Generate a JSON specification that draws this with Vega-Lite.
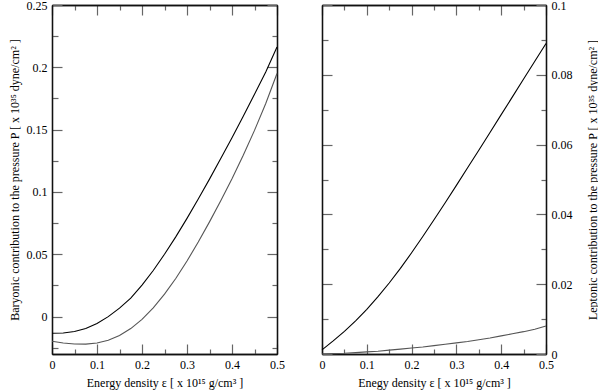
{
  "$schema": "https://vega.github.io/schema/vega-lite/v6.json",
  "background": "white",
  "padding": {"left": 8, "top": -1, "right": 0, "bottom": 4},
  "datasets": {
    "baryon": [
      {"e": 0, "p": -0.0134, "curve": "upper"}, {"e": 0.025, "p": -0.0132, "curve": "upper"}, {"e": 0.05, "p": -0.0120, "curve": "upper"}, {"e": 0.075, "p": -0.0096, "curve": "upper"}, {"e": 0.1, "p": -0.0055, "curve": "upper"}, {"e": 0.125, "p": 0.0000, "curve": "upper"}, {"e": 0.15, "p": 0.0068, "curve": "upper"}, {"e": 0.175, "p": 0.0148, "curve": "upper"}, {"e": 0.2, "p": 0.0253, "curve": "upper"}, {"e": 0.225, "p": 0.0370, "curve": "upper"}, {"e": 0.25, "p": 0.0500, "curve": "upper"}, {"e": 0.275, "p": 0.0640, "curve": "upper"}, {"e": 0.3, "p": 0.0788, "curve": "upper"}, {"e": 0.325, "p": 0.0943, "curve": "upper"}, {"e": 0.35, "p": 0.1103, "curve": "upper"}, {"e": 0.375, "p": 0.1268, "curve": "upper"}, {"e": 0.4, "p": 0.1435, "curve": "upper"}, {"e": 0.425, "p": 0.1608, "curve": "upper"}, {"e": 0.45, "p": 0.1783, "curve": "upper"}, {"e": 0.475, "p": 0.1963, "curve": "upper"}, {"e": 0.5, "p": 0.2163, "curve": "upper"},
      {"e": 0, "p": -0.0198, "curve": "lower"}, {"e": 0.025, "p": -0.0212, "curve": "lower"}, {"e": 0.05, "p": -0.0220, "curve": "lower"}, {"e": 0.075, "p": -0.0221, "curve": "lower"}, {"e": 0.1, "p": -0.0212, "curve": "lower"}, {"e": 0.125, "p": -0.0190, "curve": "lower"}, {"e": 0.15, "p": -0.0152, "curve": "lower"}, {"e": 0.175, "p": -0.0096, "curve": "lower"}, {"e": 0.2, "p": -0.0022, "curve": "lower"}, {"e": 0.225, "p": 0.0070, "curve": "lower"}, {"e": 0.25, "p": 0.0180, "curve": "lower"}, {"e": 0.275, "p": 0.0306, "curve": "lower"}, {"e": 0.3, "p": 0.0446, "curve": "lower"}, {"e": 0.325, "p": 0.0598, "curve": "lower"}, {"e": 0.35, "p": 0.0760, "curve": "lower"}, {"e": 0.375, "p": 0.0930, "curve": "lower"}, {"e": 0.4, "p": 0.1106, "curve": "lower"}, {"e": 0.425, "p": 0.1294, "curve": "lower"}, {"e": 0.45, "p": 0.1494, "curve": "lower"}, {"e": 0.475, "p": 0.1710, "curve": "lower"}, {"e": 0.5, "p": 0.1950, "curve": "lower"}
    ],
    "lepton": [
      {"e": 0, "p": 0.0012, "curve": "upper"}, {"e": 0.025, "p": 0.00375, "curve": "upper"}, {"e": 0.05, "p": 0.0065, "curve": "upper"}, {"e": 0.075, "p": 0.0095, "curve": "upper"}, {"e": 0.1, "p": 0.0128, "curve": "upper"}, {"e": 0.125, "p": 0.01643, "curve": "upper"}, {"e": 0.15, "p": 0.02035, "curve": "upper"}, {"e": 0.175, "p": 0.02455, "curve": "upper"}, {"e": 0.2, "p": 0.0290, "curve": "upper"}, {"e": 0.225, "p": 0.03365, "curve": "upper"}, {"e": 0.25, "p": 0.03845, "curve": "upper"}, {"e": 0.275, "p": 0.04335, "curve": "upper"}, {"e": 0.3, "p": 0.04833, "curve": "upper"}, {"e": 0.325, "p": 0.05335, "curve": "upper"}, {"e": 0.35, "p": 0.0584, "curve": "upper"}, {"e": 0.375, "p": 0.06348, "curve": "upper"}, {"e": 0.4, "p": 0.06858, "curve": "upper"}, {"e": 0.425, "p": 0.07368, "curve": "upper"}, {"e": 0.45, "p": 0.07878, "curve": "upper"}, {"e": 0.475, "p": 0.08388, "curve": "upper"}, {"e": 0.5, "p": 0.08898, "curve": "upper"},
      {"e": 0, "p": 0.0000, "curve": "lower"}, {"e": 0.025, "p": 0.0001, "curve": "lower"}, {"e": 0.05, "p": 0.0002, "curve": "lower"}, {"e": 0.075, "p": 0.0004, "curve": "lower"}, {"e": 0.1, "p": 0.0006, "curve": "lower"}, {"e": 0.125, "p": 0.0008, "curve": "lower"}, {"e": 0.15, "p": 0.0011, "curve": "lower"}, {"e": 0.175, "p": 0.0014, "curve": "lower"}, {"e": 0.2, "p": 0.0017, "curve": "lower"}, {"e": 0.225, "p": 0.0020, "curve": "lower"}, {"e": 0.25, "p": 0.0024, "curve": "lower"}, {"e": 0.275, "p": 0.0028, "curve": "lower"}, {"e": 0.3, "p": 0.0032, "curve": "lower"}, {"e": 0.325, "p": 0.0036, "curve": "lower"}, {"e": 0.35, "p": 0.0041, "curve": "lower"}, {"e": 0.375, "p": 0.0046, "curve": "lower"}, {"e": 0.4, "p": 0.0052, "curve": "lower"}, {"e": 0.425, "p": 0.0058, "curve": "lower"}, {"e": 0.45, "p": 0.0064, "curve": "lower"}, {"e": 0.475, "p": 0.0071, "curve": "lower"}, {"e": 0.5, "p": 0.0080, "curve": "lower"}
    ]
  },
  "config": {
    "view": {"stroke": null},
    "axis": {
      "grid": false,
      "domainColor": "#111",
      "domainWidth": 1.3,
      "tickColor": "#666",
      "tickWidth": 1.2,
      "labelFont": "Liberation Serif",
      "labelFontSize": 12,
      "labelColor": "#000",
      "labelFlush": false,
      "labelOverlap": false,
      "titleFont": "Liberation Serif",
      "titleFontSize": 12,
      "titleFontWeight": "normal",
      "titleColor": "#000",
      "format": "~g"
    },
    "line": {"strokeWidth": 1.1}
  },
  "hconcat": [
    {
      "width": 225,
      "height": 349,
      "data": {"name": "baryon"},
      "resolve": {"axis": {"x": "independent", "y": "independent"}},
      "layer": [
        {
          "mark": {"type": "line"},
          "encoding": {
            "x": {"field": "e", "type": "quantitative", "scale": {"domain": [0, 0.5], "nice": false, "zero": false},
                  "axis": {"orient": "bottom", "values": [0, 0.1, 0.2, 0.3, 0.4, 0.5], "tickSize": -10, "labelPadding": 15, "title": "Energy density ε [ x 10¹⁵ g/cm³ ]", "titlePadding": 7}},
            "y": {"field": "p", "type": "quantitative", "scale": {"domain": [-0.03, 0.25], "nice": false, "zero": false},
                  "axis": {"orient": "left", "values": [0, 0.05, 0.1, 0.15, 0.2, 0.25], "tickSize": -10, "labelPadding": 15, "title": "Baryonic contribution to the pressure P [ x 10³⁵ dyne/cm² ]", "titlePadding": 5}},
            "detail": {"field": "curve"},
            "color": {"field": "curve", "type": "nominal", "scale": {"domain": ["upper", "lower"], "range": ["#000000", "#555555"]}, "legend": null}
          }
        },
        {
          "mark": {"type": "line", "opacity": 0},
          "encoding": {
            "x": {"field": "e", "type": "quantitative", "scale": {"domain": [0, 0.5], "nice": false, "zero": false},
                  "axis": {"orient": "top", "values": [0, 0.1, 0.2, 0.3, 0.4, 0.5], "tickSize": -10, "labels": false, "title": null}},
            "y": {"field": "p", "type": "quantitative", "scale": {"domain": [-0.03, 0.25], "nice": false, "zero": false},
                  "axis": {"orient": "right", "values": [0, 0.05, 0.1, 0.15, 0.2, 0.25], "tickSize": -10, "labels": false, "title": null}},
            "detail": {"field": "curve"}
          }
        },
        {
          "mark": {"type": "line", "opacity": 0},
          "encoding": {
            "x": {"field": "e", "type": "quantitative", "scale": {"domain": [0, 0.5], "nice": false, "zero": false},
                  "axis": {"orient": "bottom", "values": [0.05, 0.15, 0.25, 0.35, 0.45], "tickSize": -5, "labels": false, "title": null}},
            "y": {"field": "p", "type": "quantitative", "scale": {"domain": [-0.03, 0.25], "nice": false, "zero": false},
                  "axis": {"orient": "left", "values": [-0.025, 0.025, 0.075, 0.125, 0.175, 0.225], "tickSize": -6, "labels": false, "title": null}},
            "detail": {"field": "curve"}
          }
        },
        {
          "mark": {"type": "line", "opacity": 0},
          "encoding": {
            "x": {"field": "e", "type": "quantitative", "scale": {"domain": [0, 0.5], "nice": false, "zero": false},
                  "axis": {"orient": "top", "values": [0.05, 0.15, 0.25, 0.35, 0.45], "tickSize": -5, "labels": false, "title": null}},
            "y": {"field": "p", "type": "quantitative", "scale": {"domain": [-0.03, 0.25], "nice": false, "zero": false},
                  "axis": {"orient": "right", "values": [-0.025, 0.025, 0.075, 0.125, 0.175, 0.225], "tickSize": -5, "labels": false, "title": null}},
            "detail": {"field": "curve"}
          }
        }
      ]
    },
    {
      "width": 224,
      "height": 349,
      "data": {"name": "lepton"},
      "resolve": {"axis": {"x": "independent", "y": "independent"}},
      "layer": [
        {
          "mark": {"type": "line"},
          "encoding": {
            "x": {"field": "e", "type": "quantitative", "scale": {"domain": [0, 0.5], "nice": false, "zero": false},
                  "axis": {"orient": "bottom", "values": [0, 0.1, 0.2, 0.3, 0.4, 0.5], "tickSize": -10, "labelPadding": 15, "title": "Enegy density ε [ x 10¹⁵ g/cm³ ]", "titlePadding": 7}},
            "y": {"field": "p", "type": "quantitative", "scale": {"domain": [0, 0.1], "nice": false, "zero": false},
                  "axis": {"orient": "right", "values": [0, 0.02, 0.04, 0.06, 0.08, 0.1], "tickSize": -10, "labelPadding": 15, "title": "Leptonic contribution to the pressure P [ x 10³⁵ dyne/cm² ]", "titleAngle": 270, "titleBaseline": "top", "titlePadding": 15}},
            "detail": {"field": "curve"},
            "color": {"field": "curve", "type": "nominal", "scale": {"domain": ["upper", "lower"], "range": ["#333333", "#000000"]}, "legend": null}
          }
        },
        {
          "mark": {"type": "line", "opacity": 0},
          "encoding": {
            "x": {"field": "e", "type": "quantitative", "scale": {"domain": [0, 0.5], "nice": false, "zero": false},
                  "axis": {"orient": "top", "values": [0, 0.1, 0.2, 0.3, 0.4, 0.5], "tickSize": -10, "labels": false, "title": null}},
            "y": {"field": "p", "type": "quantitative", "scale": {"domain": [0, 0.1], "nice": false, "zero": false},
                  "axis": {"orient": "left", "values": [0, 0.02, 0.04, 0.06, 0.08, 0.1], "tickSize": -10, "labels": false, "title": null}},
            "detail": {"field": "curve"}
          }
        },
        {
          "mark": {"type": "line", "opacity": 0},
          "encoding": {
            "x": {"field": "e", "type": "quantitative", "scale": {"domain": [0, 0.5], "nice": false, "zero": false},
                  "axis": {"orient": "bottom", "values": [0.05, 0.15, 0.25, 0.35, 0.45], "tickSize": -5, "labels": false, "title": null}},
            "y": {"field": "p", "type": "quantitative", "scale": {"domain": [0, 0.1], "nice": false, "zero": false},
                  "axis": {"orient": "right", "values": [0.01, 0.03, 0.05, 0.07, 0.09], "tickSize": -5, "labels": false, "title": null}},
            "detail": {"field": "curve"}
          }
        },
        {
          "mark": {"type": "line", "opacity": 0},
          "encoding": {
            "x": {"field": "e", "type": "quantitative", "scale": {"domain": [0, 0.5], "nice": false, "zero": false},
                  "axis": {"orient": "top", "values": [0.05, 0.15, 0.25, 0.35, 0.45], "tickSize": -5, "labels": false, "title": null}},
            "y": {"field": "p", "type": "quantitative", "scale": {"domain": [0, 0.1], "nice": false, "zero": false},
                  "axis": {"orient": "left", "values": [0.01, 0.03, 0.05, 0.07, 0.09], "tickSize": -6, "labels": false, "title": null}},
            "detail": {"field": "curve"}
          }
        }
      ]
    }
  ],
  "spacing": 45,
  "bounds": "flush"
}
